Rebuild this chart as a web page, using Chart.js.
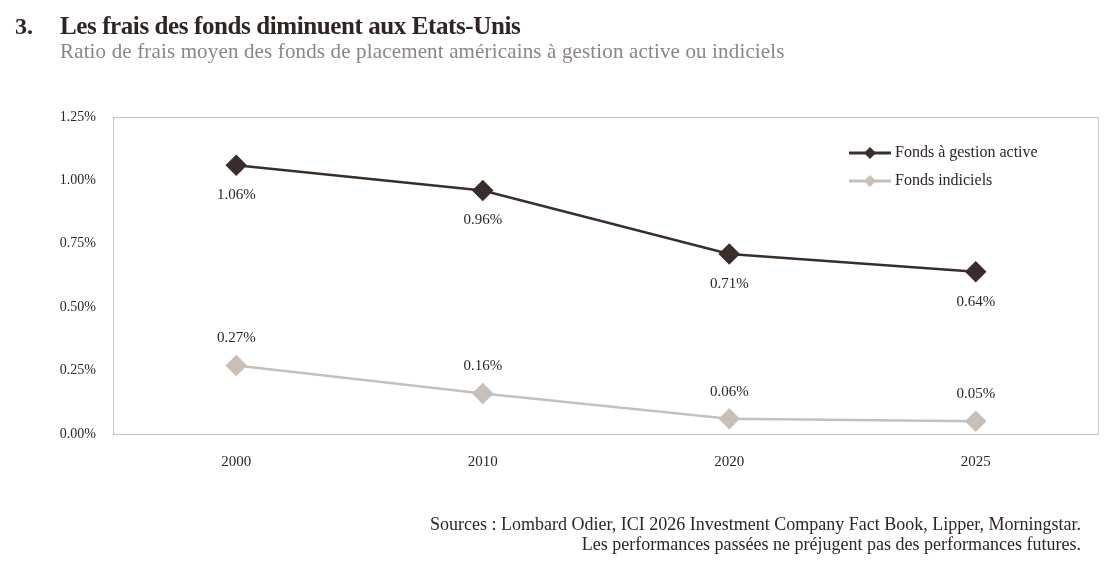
<!DOCTYPE html>
<html>
<head>
<meta charset="utf-8">
<script src="https://cdn.jsdelivr.net/npm/chart.js@4"></script>
<style>
  body { margin: 0; background: #fff; font-family: "Liberation Serif", serif; }
  #wrap { position: relative; width: 1117px; height: 562px; }
  #num { position: absolute; left: 15px; top: 13px; font-size: 24px; font-weight: bold; color: #2f2523; }
  #title { position: absolute; left: 60px; top: 12px; font-size: 25px; font-weight: bold; color: #2f2523; letter-spacing: -0.4px; }
  #sub { position: absolute; left: 60px; top: 39px; font-size: 21px; color: #8c8581; letter-spacing: 0.15px; }
  #foot { position: absolute; right: 36px; top: 514px; font-size: 18px; color: #2f2523; text-align: right; line-height: 20px; }
  canvas { position: absolute; left: 0; top: 0; }
</style>
</head>
<body>
<div id="wrap">
  <canvas id="chart" width="1117" height="562"></canvas>
  <div id="num">3.</div>
  <div id="title">Les frais des fonds diminuent aux Etats-Unis</div>
  <div id="sub">Ratio de frais moyen des fonds de placement américains à gestion active ou indiciels</div>
  <div id="foot">Sources : Lombard Odier, ICI 2026 Investment Company Fact Book, Lipper, Morningstar.<br>Les performances passées ne préjugent pas des performances futures.</div>
</div>
<script>
var years = ["2000", "2010", "2020", "2025"];
var activeFees = [1.06, 0.96, 0.71, 0.64];
var indexFees = [0.27, 0.16, 0.06, 0.05];
var yTicks = [0, 0.25, 0.5, 0.75, 1.0, 1.25];

var darkCol = '#3a2e2c';
var lightCol = '#c9bfb9';
var frameCol = '#cdc4be';

// frame, value labels and legend
var extras = {
    id: 'extras',
    afterDatasetsDraw: function(chart) {
        var ctx = chart.ctx;
        var a = chart.chartArea;
        ctx.save();
        ctx.strokeStyle = frameCol;
        ctx.lineWidth = 1;
        ctx.strokeRect(a.left + 0.5, a.top + 0.5, a.right - a.left - 1, a.bottom - a.top);

        ctx.font = '15px "Liberation Serif"';
        ctx.fillStyle = '#2f2523';
        ctx.textAlign = 'center';
        ctx.textBaseline = 'middle';
        chart.data.datasets.forEach(function(ds, i) {
            var meta = chart.getDatasetMeta(i);
            meta.data.forEach(function(pt, j) {
                var off = i === 0 ? 30 : -27;
                ctx.fillText(ds.data[j].toFixed(2) + '%', pt.x, pt.y + off);
            });
        });

        // legend
        ctx.font = '16px "Liberation Serif"';
        ctx.textAlign = 'left';
        chart.data.datasets.forEach(function(ds, i) {
            var y = 153 + i * 28;
            var x0 = 849, x1 = 891;
            ctx.strokeStyle = ds.borderColor;
            ctx.lineWidth = 3;
            ctx.beginPath();
            ctx.moveTo(x0, y);
            ctx.lineTo(x1, y);
            ctx.stroke();
            ctx.fillStyle = ds.borderColor;
            ctx.beginPath();
            ctx.moveTo(870, y - 6);
            ctx.lineTo(876, y);
            ctx.lineTo(870, y + 6);
            ctx.lineTo(864, y);
            ctx.closePath();
            ctx.fill();
            ctx.fillStyle = '#2f2523';
            ctx.fillText(ds.label, 895, y);
        });
        ctx.restore();
    }
};

new Chart(document.getElementById('chart').getContext('2d'), {
    type: 'line',
    data: {
        labels: years,
        datasets: [{
            label: 'Fonds à gestion active',
            data: activeFees,
            borderColor: darkCol,
            backgroundColor: darkCol,
            borderWidth: 2.5,
            pointStyle: 'rectRot',
            pointRadius: 9,
            pointHoverRadius: 9,
            tension: 0
        }, {
            label: 'Fonds indiciels',
            data: indexFees,
            borderColor: lightCol,
            backgroundColor: lightCol,
            borderWidth: 2.5,
            pointStyle: 'rectRot',
            pointRadius: 9,
            pointHoverRadius: 9,
            tension: 0
        }]
    },
    options: {
        responsive: false,
        animation: false,
        layout: { padding: { left: 0, right: 18, top: 117, bottom: 0 } },
        plugins: {
            legend: { display: false },
            tooltip: { enabled: false }
        },
        scales: {
            x: {
                offset: true,
                grid: { display: false },
                border: { display: false },
                ticks: {
                    color: '#2f2523',
                    font: { family: 'Liberation Serif', size: 15 },
                    padding: 11
                },
                afterFit: function(s) { s.height = 128; }
            },
            y: {
                min: 0,
                max: 1.25,
                grid: { display: false },
                border: { display: false },
                afterBuildTicks: function(s) {
                    s.ticks = yTicks.map(function(v) { return { value: v }; });
                },
                ticks: {
                    color: '#2f2523',
                    font: { family: 'Liberation Serif', size: 14 },
                    padding: 9,
                    callback: function(v) { return v.toFixed(2) + '%'; }
                },
                afterFit: function(s) { s.width = 113; }
            }
        }
    },
    plugins: [extras]
});
</script>
</body>
</html>
